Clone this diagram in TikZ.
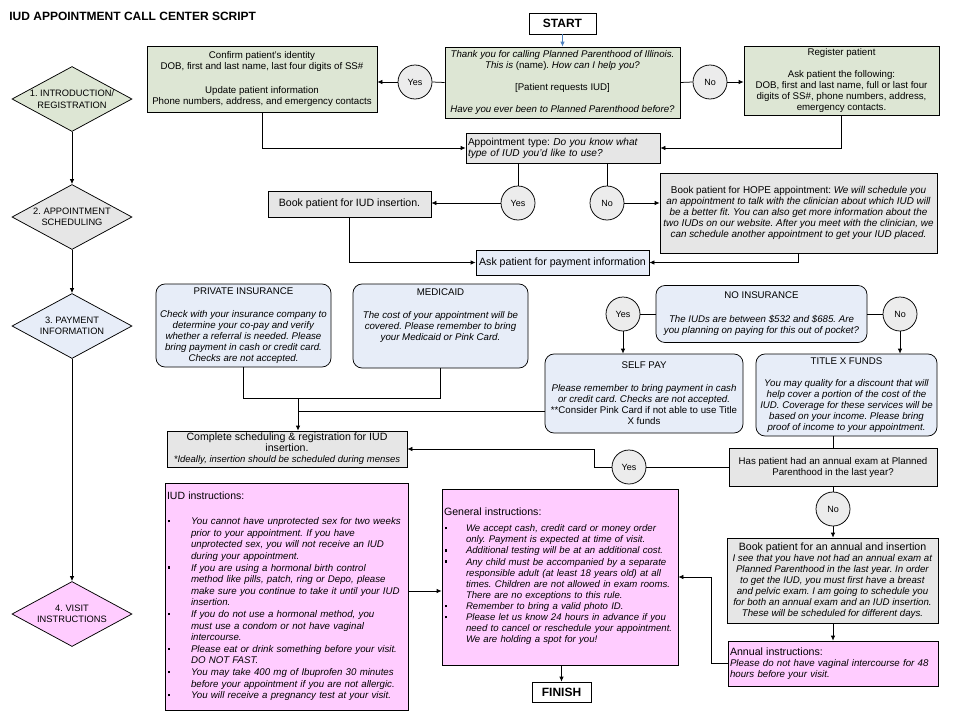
\documentclass[tikz,border=0pt]{standalone}
\usepackage{fontspec}
\setmainfont{Liberation Sans}
\usepackage{array}
\usetikzlibrary{shapes.geometric,arrows.meta}
\definecolor{regreen}{RGB}{221,230,212}
\definecolor{schgray}{RGB}{230,230,230}
\definecolor{payblue}{RGB}{231,237,248}
\definecolor{visitpink}{RGB}{255,204,255}
\definecolor{circgray}{RGB}{236,236,236}
\definecolor{startblue}{RGB}{79,129,189}
\newcommand{\sqbul}{\hspace*{1pt}\rule[2.3pt]{2.4pt}{2.4pt}}
\newcommand{\bigsz}{\fontsize{10.6}{11}\selectfont}

\begin{document}
\frenchspacing
\begin{tikzpicture}
		[x=1pt,y=-1pt,line width=0.75pt,>={Latex[length=5pt,width=4.5pt]},
		every node/.style={font=\fontsize{9.7}{11}\selectfont,inner sep=2pt},
		box/.style={draw,align=center},
		dims/.style 2 args={minimum width=#1pt,minimum height=#2pt},
		roundbox/.style={box,rounded corners=9pt,fill=payblue},
		yesno/.style={circle,draw,fill=circgray,minimum size=34pt,inner sep=0pt,font=\fontsize{9}{11}\selectfont},
		stage/.style={diamond,draw,aspect=1.85,inner sep=0pt,minimum width=120pt,minimum height=65pt,align=center,font=\fontsize{9.3}{11.5}\selectfont},
		endbox/.style={box,font=\fontsize{12}{13}\selectfont\bfseries}]
		\useasboundingbox (0,0) rectangle (960,720);
		
		\node[anchor=west,font=\fontsize{12}{13}\selectfont\bfseries] (title) at (7,16) {IUD APPOINTMENT CALL CENTER SCRIPT};
		
		\node[stage,fill=regreen] (st1) at (72,99) {1. INTRODUCTION/\\REGISTRATION};
		\node[stage,fill=schgray] (st2) at (72,217) {2. APPOINTMENT\\SCHEDULING};
		\node[stage,fill=payblue] (st3) at (72,326) {3. PAYMENT\\INFORMATION};
		\node[stage,fill=visitpink] (st4) at (72,614) {4. VISIT\\INSTRUCTIONS};
		\draw[->] (st1) -- (st2);
		\draw[->] (st2) -- (st3);
		\draw[->] (st3) -- (st4);
		
		\node[endbox,dims={67}{21}] (start) at (562.5,23.5) {START};
		\node[box,fill=regreen,dims={235}{71}] (thank) at (562.5,82.5)
			{\textit{Thank you for calling Planned Parenthood of Illinois.}\\
			\textit{This is} (name)\textit{. How can I help you?}\\[11pt]
			[Patient requests IUD]\\[11pt]
			\textit{Have you ever been to Planned Parenthood before?}};
		\node[box,fill=regreen,dims={230}{66}] (confirm) at (262,79)
			{Confirm patient's identity\\
			DOB, first and last name, last four digits of SS\#\\[13pt]
			Update patient information\\
			Phone numbers, address, and emergency contacts};
		\node[box,fill=regreen,dims={195}{69}] (register) at (841.5,80.5)
			{Register patient\\[11pt]
			Ask patient the following:\\
			DOB, first and last name, full or last four\\
			digits of SS\#, phone numbers, address,\\
			emergency contacts.};
		\node[yesno] (yes1) at (415,82) {Yes};
		\node[yesno] (no1) at (710,82) {No};
		
		\node[box,fill=schgray,dims={194}{30},text width=190pt,align=left,font=\fontsize{10.1}{11}\selectfont] (apptype) at (563,148)
			{Appointment type: \textit{Do you know what}\\
			\textit{type of IUD you'd like to use?}};
		\node[yesno] (yes2) at (518,203) {Yes};
		\node[yesno] (no2) at (607,203) {No};
		\node[box,fill=schgray,dims={163}{26},font=\bigsz] (bookiud) at (349.5,204) {Book patient for IUD insertion.};
		\node[box,fill=schgray,dims={277}{80},font=\fontsize{9.9}{11}\selectfont] (hope) at (798.5,213)
			{Book patient for HOPE appointment: \textit{We will schedule you}\\
			\textit{an appointment to talk with the clinician about which IUD will}\\
			\textit{be a better fit. You can also get more information about the}\\
			\textit{two IUDs on our website. After you meet with the clinician, we}\\
			\textit{can schedule another appointment to get your IUD placed.}};
		\node[box,fill=payblue,dims={173}{25},font=\fontsize{10.6}{11}\selectfont] (ask) at (562.5,262.5) {Ask patient for payment information};
		
		\node[roundbox,dims={175}{83}] (private) at (243.5,325.5)
			{PRIVATE INSURANCE\\[12pt]
			\textit{Check with your insurance company to}\\
			\textit{determine your co-pay and verify}\\
			\textit{whether a referral is needed. Please}\\
			\textit{bring payment in cash or credit card.}\\
			\textit{Checks are not accepted.}};
		\node[roundbox,dims={175}{84}] (medicaid) at (440.5,326)
			{MEDICAID\\[12pt]
			\textit{The cost of your appointment will be}\\
			\textit{covered. Please remember to bring}\\
			\textit{your Medicaid or Pink Card.}\\[12pt]
			\mbox{}};
		\node[roundbox,dims={211}{57}] (noins) at (761.5,314)
			{NO INSURANCE\\[13pt]
			\textit{The IUDs are between \$532 and \$685. Are}\\
			\textit{you planning on paying for this out of pocket?}};
		\node[yesno] (yes3) at (623,314) {Yes};
		\node[yesno] (no3) at (900,314) {No};
		\node[roundbox,dims={198}{79}] (selfpay) at (644,393.5)
			{SELF PAY\\[12pt]
			\textit{Please remember to bring payment in cash}\\
			\textit{or credit card. Checks are not accepted.}\\
			**Consider Pink Card if not able to use Title\\
			X funds};
		\node[roundbox,dims={181}{82}] (titlex) at (846.5,395)
			{TITLE X FUNDS\\[11pt]
			\textit{You may quality for a discount that will}\\
			\textit{help cover a portion of the cost of the}\\
			\textit{IUD. Coverage for these services will be}\\
			\textit{based on your income. Please bring}\\
			\textit{proof of income to your appointment.}};
		\node[box,fill=schgray,dims={240}{36}] (complete) at (287,449)
			{{\bigsz Complete scheduling \& registration for IUD}\\
			{\bigsz insertion.}\\
			{\fontsize{9.5}{11}\selectfont\itshape *Ideally, insertion should be scheduled during menses}};
		\node[box,fill=schgray,dims={208}{38}] (haspat) at (833,467)
			{Has patient had an annual exam at Planned\\
			Parenthood in the last year?};
		\node[yesno] (yes4) at (629,467) {Yes};
		\node[yesno] (no4) at (833,509) {No};
		\node[box,fill=schgray,dims={211}{85}] (bookann) at (832.5,580.5)
			{{\bigsz Book patient for an annual and insertion}\\
			\textit{I see that you have not had an annual exam at}\\
			\textit{Planned Parenthood in the last year. In order}\\
			\textit{to get the IUD, you must first have a breast}\\
			\textit{and pelvic exam. I am going to schedule you}\\
			\textit{for both an annual exam and an IUD insertion.}\\
			\textit{These will be scheduled for different days.}};
		\node[box,fill=visitpink,dims={210}{45},text width=206pt,align=left] (annual) at (833,663.5)
			{{\bigsz Annual instructions:}\\
			\textit{Please do not have vaginal intercourse for 48}\\
			\textit{hours before your visit.}};
		
		\node[box,fill=visitpink,dims={243}{227},text width=239pt,align=left] (iudinst) at (286.5,596.5)
			{\fontsize{9.7}{11.6}\selectfont
			\begin{tabular}{@{}p{24pt}@{}>{\itshape}l@{}}
			\multicolumn{2}{@{}l@{}}{\fontsize{10.5}{11.6}\selectfont IUD instructions:}\\[14pt]
			\sqbul & You cannot have unprotected sex for two weeks\\
			 & prior to your appointment. If you have\\
			 & unprotected sex, you will not receive an IUD\\
			 & during your appointment.\\
			\sqbul & If you are using a hormonal birth control\\
			 & method like pills, patch, ring or Depo, please\\
			 & make sure you continue to take it until your IUD\\
			 & insertion.\\
			\sqbul & If you do not use a hormonal method, you\\
			 & must use a condom or not have vaginal\\
			 & intercourse.\\
			\sqbul & Please eat or drink something before your visit.\\
			 & DO NOT FAST.\\
			\sqbul & You may take 400 mg of Ibuprofen 30 minutes\\
			 & before your appointment if you are not allergic.\\
			\sqbul & You will receive a pregnancy test at your visit.
			\end{tabular}};
		\node[box,fill=visitpink,dims={236}{176},text width=232pt,align=left] (general) at (560,577)
			{\fontsize{9.6}{11.1}\selectfont
			\begin{tabular}{@{}p{22pt}@{}>{\itshape}l@{}}
			\multicolumn{2}{@{}l@{}}{\fontsize{10.6}{11.1}\selectfont General instructions:}\\[5pt]
			\sqbul & We accept cash, credit card or money order\\
			 & only. Payment is expected at time of visit.\\
			\sqbul & Additional testing will be at an additional cost.\\
			\sqbul & Any child must be accompanied by a separate\\
			 & responsible adult (at least 18 years old) at all\\
			 & times. Children are not allowed in exam rooms.\\
			 & There are no exceptions to this rule.\\
			\sqbul & Remember to bring a valid photo ID.\\
			\sqbul & Please let us know 24 hours in advance if you\\
			 & need to cancel or reschedule your appointment.\\
			 & We are holding a spot for you!
			\end{tabular}};
		\node[endbox,dims={59}{20}] (finish) at (561.5,692) {FINISH};
		
		\draw[->,startblue] (start) -- (thank);
		\draw (thank.west) -- (yes1.east);
		\draw[->] (yes1.west) -- (yes1.west -| confirm.east);
		\draw (thank.east) -- (no1.west);
		\draw[->] (no1.east) -- (no1.east -| register.west);
		\draw[->] (confirm.south) |- (apptype.west);
		\draw[->] (register.south) |- (apptype.east);
		
		\draw (yes2.north |- apptype.south) -- (yes2.north);
		\draw (no2.north |- apptype.south) -- (no2.north);
		\draw[->] (yes2.west) -- (yes2.west -| bookiud.east);
		\draw[->] (no2.east) -- (no2.east -| hope.west);
		\draw[->] (bookiud.south) |- (ask.west);
		\draw[->] (hope.south) |- (ask.east);
		
		\coordinate (paymerge) at (298,398);
		\coordinate (selfjoin) at (298,411);
		\draw (private.south) |- (paymerge);
		\draw (medicaid.south) |- (paymerge);
		\draw[->] (paymerge) -- (paymerge |- complete.north);
		\draw (selfpay.west |- selfjoin) -- (selfjoin);
		
		\draw (noins.west) -- (yes3.east);
		\draw[->] (yes3.south) -- (yes3.south |- selfpay.north);
		\draw (noins.east) -- (no3.west);
		\draw[->] (no3.south) -- (no3.south |- titlex.north);
		\draw (titlex.south -| haspat.north) -- (haspat.north);
		\draw (haspat.west) -- (yes4.east);
		\draw[->] (yes4.west) -- ++(-17,0) |- (complete.east);
		\draw (haspat.south) -- (no4.north);
		\draw[->] (no4.south) -- (no4.south |- bookann.north);
		\draw[->] (no4.south |- bookann.south) -- (no4.south |- annual.north);
		\draw[->] (annual.west) -- ++(-16,0) |- (general.east);
		\draw[->] ([yshift=5.5pt]iudinst.east) -- ([yshift=5.5pt]iudinst.east -| general.west);
		\draw[->] (finish.north |- general.south) -- (finish.north);
		
		\end{tikzpicture}
\end{document}
